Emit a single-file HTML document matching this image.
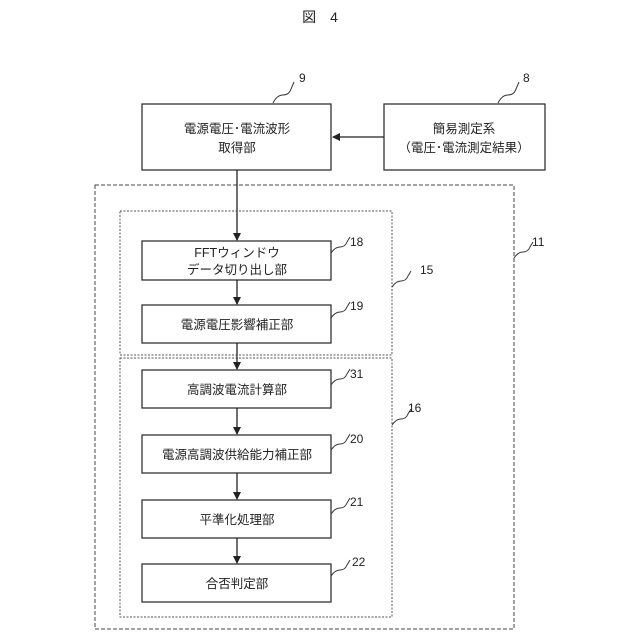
<!DOCTYPE html>
<html><head><meta charset="utf-8"><style>
html,body{margin:0;padding:0;background:#fff}
svg{display:block}
text{font-family:"Liberation Sans","Noto Sans CJK JP",sans-serif;fill:#222}
</style></head><body>
<svg width="640" height="640" viewBox="0 0 640 640" xmlns="http://www.w3.org/2000/svg">
<defs><marker id="a" markerWidth="8" markerHeight="8" refX="7" refY="4" orient="auto" markerUnits="userSpaceOnUse"><path d="M0,0 L8,4 L0,8 z" fill="#222"/></marker></defs>
<text x="320" y="22" font-size="14" text-anchor="middle">図　4</text>
<g fill="none" stroke="#333" stroke-width="1.3">
<rect x="142" y="104" width="189" height="66"/>
<rect x="384" y="104" width="161" height="66"/>
<rect x="142" y="241" width="189" height="39"/>
<rect x="142" y="305" width="189" height="38"/>
<rect x="142" y="370" width="189" height="38"/>
<rect x="142" y="435" width="189" height="38"/>
<rect x="142" y="500" width="189" height="38"/>
<rect x="142" y="564" width="189" height="38"/>
</g>
<g fill="none" stroke="#444" stroke-width="1" stroke-dasharray="4,2">
<rect x="95" y="185" width="419" height="444"/>
</g>
<g fill="none" stroke="#555" stroke-width="1" stroke-dasharray="2,1.5">
<rect x="120" y="211" width="272" height="144"/>
<rect x="120" y="358" width="272" height="259"/>
</g>
<g stroke="#222" stroke-width="1.3" fill="none" marker-end="url(#a)">
<line x1="384" y1="137" x2="333" y2="137"/>
<line x1="237" y1="170" x2="237" y2="240"/>
<line x1="237" y1="280" x2="237" y2="304"/>
<line x1="237" y1="343" x2="237" y2="369"/>
<line x1="237" y1="408" x2="237" y2="434"/>
<line x1="237" y1="473" x2="237" y2="499"/>
<line x1="237" y1="538" x2="237" y2="563"/>
</g>
<g stroke="#333" stroke-width="1" fill="none">
<path d="M273,103 q4,-8 10,-8 q6,0 8,-6 l3,-7"/>
<path d="M498,103 q4,-8 10,-8 q6,0 8,-6 l3,-7"/>
<path d="M331,253 q4,-6 9,-6 q5,0 7,-5 l3,-5"/>
<path d="M331,318 q4,-6 9,-6 q5,0 7,-5 l3,-5"/>
<path d="M331,385 q4,-6 9,-6 q5,0 7,-5 l3,-5"/>
<path d="M331,450 q4,-6 9,-6 q5,0 7,-5 l3,-5"/>
<path d="M331,514 q4,-6 9,-6 q5,0 7,-5 l3,-5"/>
<path d="M331,576 q4,-6 9,-6 q5,0 7,-5 l3,-5"/>
<path d="M392,287 q4,-6 9,-6 q5,0 7,-5 l3,-5"/>
<path d="M392,425 q4,-6 9,-6 q5,0 7,-5 l3,-5"/>
<path d="M514,258 q4,-6 9,-6 q5,0 7,-5 l3,-5"/>
</g>
<g font-size="12">
<text x="299" y="82">9</text>
<text x="523" y="82">8</text>
<text x="350" y="246">18</text>
<text x="350" y="310">19</text>
<text x="350" y="378">31</text>
<text x="350" y="443">20</text>
<text x="350" y="506">21</text>
<text x="352" y="566">22</text>
<text x="420" y="274">15</text>
<text x="408" y="412">16</text>
<text x="532" y="246">11</text>
</g>
<g font-size="12.5" text-anchor="middle">
<text x="237" y="133">電源電圧･電流波形</text>
<text x="237" y="152">取得部</text>
<text x="464" y="133">簡易測定系</text>
<text x="464" y="152">（電圧･電流測定結果）</text>
<text x="237" y="257">FFTウィンドウ</text>
<text x="237" y="274">データ切り出し部</text>
<text x="237" y="329">電源電圧影響補正部</text>
<text x="237" y="394">高調波電流計算部</text>
<text x="237" y="459">電源高調波供給能力補正部</text>
<text x="237" y="524">平準化処理部</text>
<text x="237" y="588">合否判定部</text>
</g>
</svg>
</body></html>
